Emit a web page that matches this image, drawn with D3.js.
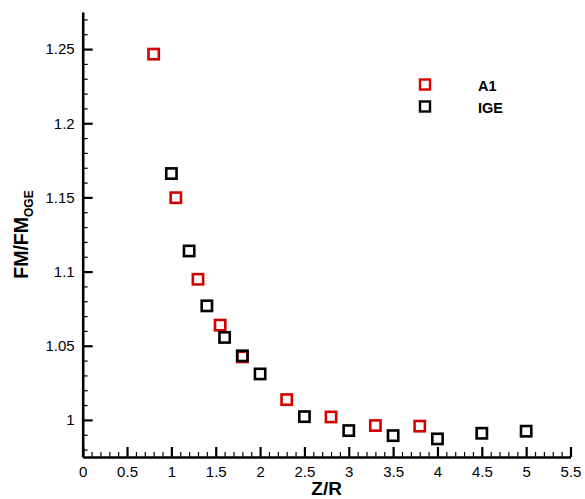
<!DOCTYPE html>
<html>
<head>
<meta charset="utf-8">
<script src="https://cdn.jsdelivr.net/npm/d3@7"></script>
<style>
  body { margin: 0; background: #fff; }
  svg { display: block; font-family: "Liberation Sans", Arial, sans-serif; }
</style>
</head>
<body>
<svg id="chart"></svg>
<script>
// Z/R vs FM/FM_OGE, two series
let zA1  = [0.8, 1.05, 1.3, 1.55, 1.8, 2.3, 2.8, 3.3, 3.8]
let fmA1 = [1.2466, 1.1498, 1.0948, 1.0639, 1.0425, 1.0137, 1.002, 0.9962, 0.9958]

let zIGE  = [1.0, 1.2, 1.4, 1.6, 1.8, 2.0, 2.5, 3.0, 3.5, 4.0, 4.5, 5.0]
let fmIGE = [1.1661, 1.1139, 1.0769, 1.0556, 1.0432, 1.031, 1.0022, 0.9928, 0.9894, 0.9872, 0.991, 0.9924]

let xTicks = [0, 0.5, 1, 1.5, 2, 2.5, 3, 3.5, 4, 4.5, 5, 5.5]
let yTicks = [1, 1.05, 1.1, 1.15, 1.2, 1.25]
let seriesNames = ["A1", "IGE"]
let seriesColors = ["#d40000", "#000"]

const width = 585, height = 499
const margin = { top: 12, right: 14.5, bottom: 42, left: 82.7 }

let svg = d3.select("#chart")
    .attr("width", width)
    .attr("height", height)

let x = d3.scaleLinear().domain([0, 5.5]).range([margin.left, width - margin.right])
let y = d3.scaleLinear().domain([0.975, 1.275]).range([height - margin.bottom, margin.top])

// minor ticks
let xMinor = d3.range(0, 56).map(i => i / 10).filter(v => Math.round(v * 10) % 5 != 0)
let yMinor = d3.range(98, 128).map(i => i / 100).filter(v => Math.round(v * 100) % 5 != 0)

let fmt = d => String(+d.toFixed(2))

svg.append("g")
    .attr("transform", `translate(0,${height - margin.bottom})`)
    .call(d3.axisBottom(x).tickValues(xMinor).tickSize(-5).tickFormat(""))
    .call(g => g.select(".domain").remove())
    .call(g => g.selectAll("line").attr("stroke-width", 1.2))

svg.append("g")
    .attr("transform", `translate(${margin.left},0)`)
    .call(d3.axisLeft(y).tickValues(yMinor).tickSize(-5).tickFormat(""))
    .call(g => g.select(".domain").remove())
    .call(g => g.selectAll("line").attr("stroke-width", 1.2))

let xAxis = svg.append("g")
    .attr("transform", `translate(0,${height - margin.bottom})`)
    .call(d3.axisBottom(x).tickValues(xTicks).tickSizeInner(-10).tickSizeOuter(0)
        .tickPadding(9).tickFormat(fmt))
xAxis.select(".domain").attr("stroke-width", 2.6)
xAxis.selectAll("line").attr("stroke-width", 2.2)
xAxis.selectAll("text").attr("font-size", 15).attr("fill", "#000")
    .attr("font-family", "'Liberation Sans', Arial, sans-serif")

let yAxis = svg.append("g")
    .attr("transform", `translate(${margin.left},0)`)
    .call(d3.axisLeft(y).tickValues(yTicks).tickSizeInner(-10).tickSizeOuter(0)
        .tickPadding(8).tickFormat(fmt))
yAxis.select(".domain").attr("stroke-width", 2.6)
yAxis.selectAll("line").attr("stroke-width", 2.2)
yAxis.selectAll("text").attr("font-size", 15).attr("fill", "#000")
    .attr("font-family", "'Liberation Sans', Arial, sans-serif")

// axis titles
svg.append("text")
    .attr("x", (x(0) + x(5.5)) / 2)
    .attr("y", 495)
    .attr("text-anchor", "middle")
    .attr("font-size", 19)
    .attr("font-weight", "bold")
    .text("Z/R")

let yt = svg.append("text")
    .attr("transform", `translate(28,${(y.range()[0] + y.range()[1]) / 2}) rotate(-90)`)
    .attr("text-anchor", "middle")
    .attr("font-size", 19.5)
    .attr("font-weight", "bold")
yt.append("tspan").text("FM/FM")
yt.append("tspan").attr("font-size", 12).attr("dy", 5).text("OGE")

// markers
let sq = 10.3
let series = [
    { name: seriesNames[0], color: seriesColors[0], xs: zA1, ys: fmA1 },
    { name: seriesNames[1], color: seriesColors[1], xs: zIGE, ys: fmIGE }
]

for (let s of series) {
    svg.append("g")
        .attr("fill", "none")
        .attr("stroke", s.color)
        .attr("stroke-width", 2.6)
        .selectAll("rect")
        .data(s.xs.map((v, i) => [v, s.ys[i]]))
        .enter()
        .append("rect")
        .attr("x", d => x(d[0]) - sq / 2)
        .attr("y", d => y(d[1]) - sq / 2)
        .attr("width", sq)
        .attr("height", sq)
}

// legend
let legend = svg.append("g")
series.forEach((s, i) => {
    let ly = 84.5 + i * 22
    legend.append("rect")
        .attr("x", 425 - 5)
        .attr("y", ly - 5)
        .attr("width", 10)
        .attr("height", 10)
        .attr("fill", "none")
        .attr("stroke", s.color)
        .attr("stroke-width", 2.4)
    legend.append("text")
        .attr("x", 478)
        .attr("y", ly + 6)
        .attr("font-size", 14.5)
        .attr("font-weight", "bold")
        .text(s.name)
})
</script>
</body>
</html>
